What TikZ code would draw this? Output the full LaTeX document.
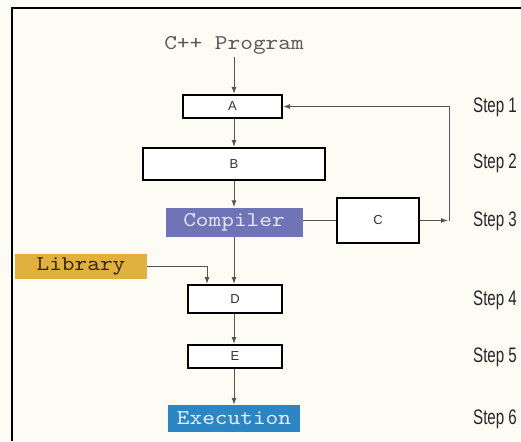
\documentclass[tikz,border=0pt]{standalone}
\usepackage{fontspec}
\setmainfont{Liberation Sans}
\newfontfamily\codefont{lmmono10-regular}[Extension=.otf, FakeStretch=1.15]
\newfontfamily\stepfont{Liberation Sans}[FakeStretch=0.72]
\usetikzlibrary{arrows.meta}

\definecolor{paper}{HTML}{FCFCF4}
\definecolor{compilerblue}{HTML}{6E74B6}
\definecolor{librarygold}{HTML}{E2B041}
\definecolor{execblue}{HTML}{2D86C4}
\definecolor{wire}{HTML}{555555}

\tikzset{
  stagebox/.style={draw=black, line width=2pt, fill=white, rectangle, inner sep=0pt,
    font=\fontsize{13}{13}\selectfont, text=black!80},
  codebox/.style={rectangle, inner sep=0pt, font=\codefont\fontsize{21}{21}\selectfont},
  conn/.style={draw=wire, line width=1pt},
  arr/.style={conn, -{Latex[length=7pt,width=5pt]}},
  steplabel/.style={anchor=west, inner sep=0pt, text=black!85,
    font=\stepfont\fontsize{21}{21}\selectfont},
}

\begin{document}
\begin{tikzpicture}[x=1pt, y=-1pt]
  % page and frame
  \fill[paper] (0,0) rectangle (521,441);
  \useasboundingbox (0,0) rectangle (521,441);
  \draw[line width=2pt, black] (12,441) -- (12,8) -- (521,8);

  % source text
  \node[codebox, text=black!65] (prog) at (234,45) {C++ Program};

  % processing stages
  \node[stagebox, minimum width=99pt, minimum height=23pt]  (A) at (232.5,106.5) {A};
  \node[stagebox, minimum width=182pt, minimum height=32pt] (B) at (234,164) {B};
  \node[codebox, fill=compilerblue, text=white!90!blue, minimum width=137pt, minimum height=29pt] (comp) at (234,222) {Compiler};
  \node[stagebox, minimum width=82pt, minimum height=45pt]  (C) at (378,220.5) {C};
  \node[codebox, fill=librarygold, text=black!70!brown, minimum width=132pt, minimum height=25pt] (lib) at (81,266) {Library};
  \node[stagebox, minimum width=94pt, minimum height=28pt]  (D) at (235,299) {D};
  \node[stagebox, minimum width=94pt, minimum height=23pt]  (E) at (235,356.5) {E};
  \node[codebox, fill=execblue, text=white!92!blue, minimum width=132pt, minimum height=27pt] (exec) at (234,418.5) {Execution};

  % loop-back corner
  \coordinate (loop) at (449,220.5);

  % main flow
  \draw[arr] (prog.south) ++(0,3) -- (A.north -| prog);
  \draw[arr] (A.south -| prog) -- (B.north -| prog);
  \draw[arr] (B.south -| prog) -- (comp.north -| prog);
  \draw[arr] (comp.south -| prog) -- (D.north -| prog);
  \draw[arr] (D.south -| prog) -- (E.north -| prog);
  \draw[arr] (E.south -| prog) -- (exec.north -| prog);

  % library link
  \draw[arr] (lib.east) -| ([xshift=-28pt]D.north);

  % compiler to C and back to A
  \draw[conn] (comp.east |- C.west) -- (C.west);
  \draw[arr] (C.east) -- ([xshift=-1pt]loop);
  \draw[arr] (loop) |- (A.east);

  % step labels
  \node[steplabel] (s1) at (473,107) {Step 1};
  \node[steplabel] (s2) at (473,163) {Step 2};
  \node[steplabel] (s3) at (473,221) {Step 3};
  \node[steplabel] (s4) at (473,300) {Step 4};
  \node[steplabel] (s5) at (473,357) {Step 5};
  \node[steplabel] (s6) at (473,419) {Step 6};
\end{tikzpicture}
\end{document}
